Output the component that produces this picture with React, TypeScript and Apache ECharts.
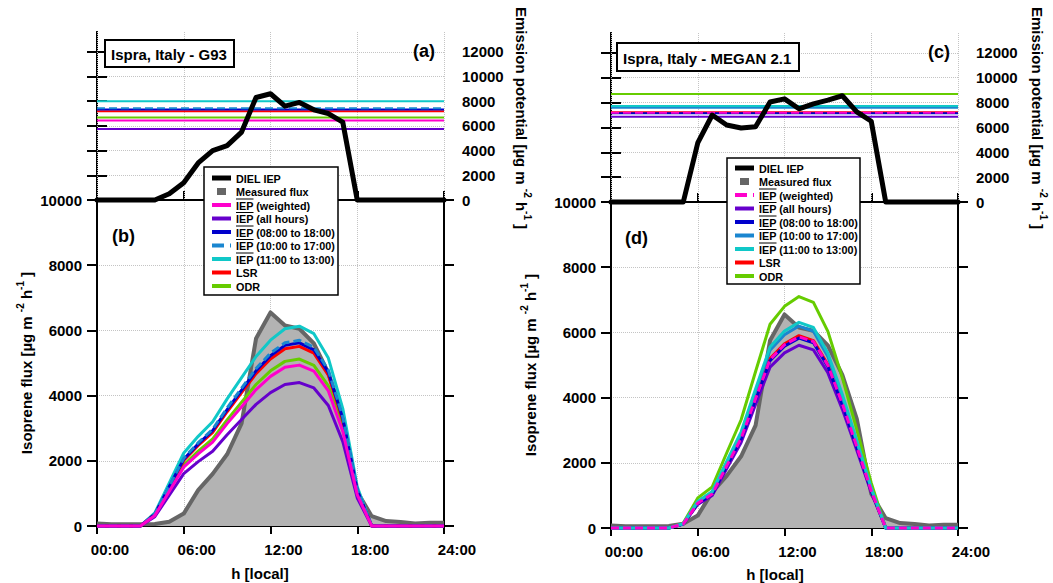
import React, { useEffect, useRef } from 'react';
import * as echarts from 'echarts';

const FONT = '"Liberation Sans", Arial, Helvetica, sans-serif';

// ---------- data ----------
const hours = [0, 1, 2, 3, 4, 5, 6, 7, 8, 9, 10, 11, 12, 13, 14, 15, 16, 17, 18, 19, 20, 21, 22, 23, 24];
const xTickLabels = ['00:00', '06:00', '12:00', '18:00', '24:00'];
const epTicks = [0, 2000, 4000, 6000, 8000, 10000, 12000];

const modelNames = ['IEP (weighted)', 'IEP (all hours)', 'IEP (08:00 to 18:00)', 'IEP (10:00 to 17:00)', 'IEP (11:00 to 13:00)', 'LSR', 'ODR'];
const legendLabels = ['DIEL IEP', 'Measured flux', ...modelNames];
const modelColors = ['#ff00cc', '#6600cc', '#0000cc', '#1a86d0', '#10c8c8', '#ff0000', '#66cc00'];

// DIEL IEP (emission potential, upper panels)
const dielG93 = [0, 0, 0, 0, 0, 500, 1400, 3000, 4000, 4400, 5500, 8300, 8600, 7600, 7900, 7300, 7000, 6300, 0, 0, 0, 0, 0, 0, 0];
const dielMegan = [0, 0, 0, 0, 0, 0, 4750, 7000, 6200, 5950, 6050, 8050, 8300, 7500, 7900, 8200, 8550, 7250, 6500, 0, 0, 0, 0, 0, 0];

// constant emission potentials (order = modelNames)
const epG93 = [6440, 5740, 7330, 7430, 8000, 7190, 6680];
const epMegan = [7190, 6870, 7140, 7590, 7730, 7230, 8700];

// measured isoprene flux
const measured = [80, 50, 50, 50, 60, 130, 380, 1100, 1600, 2200, 3150, 5750, 6550, 6150, 6050, 5600, 4700, 3350, 1050, 300, 150, 120, 80, 100, 100];

// modelled flux, G93 (panel b)
const bWeighted = [0, 0, 0, 0, 320, 1065, 1805, 2215, 2575, 3140, 3660, 4185, 4590, 4870, 4935, 4750, 4145, 2900, 965, 0, 0, 0, 0, 0, 0];
const bAllHours = [0, 0, 0, 0, 285, 945, 1605, 1975, 2295, 2800, 3265, 3730, 4090, 4340, 4400, 4235, 3695, 2585, 860, 0, 0, 0, 0, 0, 0];
const b0818 = [0, 0, 0, 0, 365, 1210, 2050, 2520, 2930, 3570, 4170, 4760, 5220, 5540, 5620, 5400, 4720, 3300, 1100, 0, 0, 0, 0, 0, 0];
const b1017 = [0, 0, 0, 0, 370, 1225, 2080, 2555, 2970, 3620, 4230, 4830, 5300, 5620, 5695, 5480, 4785, 3345, 1115, 0, 0, 0, 0, 0, 0];
const b1113 = [0, 0, 0, 0, 400, 1320, 2240, 2750, 3200, 3900, 4550, 5200, 5700, 6050, 6130, 5900, 5150, 3600, 1200, 0, 0, 0, 0, 0, 0];
const bLsr = [0, 0, 0, 0, 360, 1185, 2010, 2470, 2875, 3505, 4090, 4675, 5125, 5440, 5510, 5300, 4630, 3235, 1080, 0, 0, 0, 0, 0, 0];
const bOdr = [0, 0, 0, 0, 335, 1100, 1870, 2295, 2670, 3255, 3800, 4340, 4760, 5050, 5120, 4925, 4300, 3005, 1000, 0, 0, 0, 0, 0, 0];

// modelled flux, MEGAN 2.1 (panel d)
const dWeighted = [0, 0, 0, 0, 0, 124, 760, 1040, 1900, 2745, 3965, 5165, 5620, 5865, 5720, 4985, 3810, 2495, 1140, 0, 0, 0, 0, 0, 0];
const dAllHours = [0, 0, 0, 0, 0, 118, 725, 995, 1815, 2620, 3790, 4935, 5370, 5605, 5465, 4760, 3640, 2385, 1090, 0, 0, 0, 0, 0, 0];
const d0818 = [0, 0, 0, 0, 0, 123, 755, 1035, 1890, 2725, 3940, 5130, 5580, 5825, 5680, 4950, 3785, 2480, 1135, 0, 0, 0, 0, 0, 0];
const d1017 = [0, 0, 0, 0, 0, 131, 803, 1100, 2005, 2895, 4185, 5450, 5930, 6195, 6035, 5260, 4020, 2635, 1205, 0, 0, 0, 0, 0, 0];
const d1113 = [0, 0, 0, 0, 0, 133, 817, 1120, 2045, 2950, 4265, 5555, 6040, 6310, 6150, 5360, 4095, 2685, 1225, 0, 0, 0, 0, 0, 0];
const dLsr = [0, 0, 0, 0, 0, 125, 765, 1045, 1910, 2760, 3990, 5195, 5650, 5900, 5750, 5010, 3830, 2510, 1145, 0, 0, 0, 0, 0, 0];
const dOdr = [0, 0, 0, 0, 0, 150, 920, 1260, 2300, 3320, 4800, 6250, 6800, 7100, 6920, 6030, 4610, 3020, 1380, 0, 0, 0, 0, 0, 0];

const bModels = [bWeighted, bAllHours, b0818, b1017, b1113, bLsr, bOdr];
const dModels = [dWeighted, dAllHours, d0818, d1017, d1113, dLsr, dOdr];

// ---------- helpers ----------
const pts = (arr: number[]) => hours.map((h, i) => [h, arr[i]]);
const GRIDLINE = { show: true, lineStyle: { color: '#c4c4c4', type: 'dotted', width: 1 } };
const AXLINE = { show: true, lineStyle: { color: '#000', width: 2 } };
const TICK = (len: number, custom?: number[]) => ({
  show: true, inside: false, length: len, lineStyle: { color: '#000', width: 2 }, ...(custom ? { customValues: custom } : {}),
});
const LABEL = { color: '#000', fontSize: 15, fontWeight: 'bold', fontFamily: FONT, formatter: (v: number) => String(v) };

type Panel = {
  left: number; topY: number; midY: number; botY: number;
  diel: number[]; ep: number[]; models: number[][]; dashed: number; order: number[];
};

const panels: Panel[] = [
  { left: 97, topY: 32, midY: 200, botY: 526, diel: dielG93, ep: epG93, models: bModels, dashed: 3, order: [4, 6, 5, 2, 3, 1, 0] },
  { left: 611, topY: 33, midY: 202, botY: 528, diel: dielMegan, ep: epMegan, models: dModels, dashed: 0, order: [6, 1, 5, 2, 3, 4, 0] },
];
const PW = 347;

function buildOption() {
  const grid: any[] = [];
  const xAxis: any[] = [];
  const yAxis: any[] = [];
  const series: any[] = [];

  panels.forEach((p, pi) => {
    const gTop = pi * 2;
    const gLow = pi * 2 + 1;
    grid.push({ left: p.left, top: p.topY, width: PW, height: p.midY - p.topY, outerBoundsMode: 'none', containLabel: false });
    grid.push({ left: p.left, top: p.midY, width: PW, height: p.botY - p.midY, outerBoundsMode: 'none', containLabel: false });

    const xBase = { type: 'value', min: 0, max: 24, interval: 6 };
    // upper panel: bottom line + vertical grid
    xAxis.push({ ...xBase, gridIndex: gTop, position: 'bottom', z: 1, axisLine: AXLINE, axisTick: { show: false }, axisLabel: { show: false }, splitLine: GRIDLINE });
    // upper panel: top frame with outward ticks
    xAxis.push({ ...xBase, gridIndex: gTop, position: 'top', axisLine: AXLINE, axisTick: TICK(9), axisLabel: { show: false }, splitLine: { show: false } });
    // lower panel: time axis
    xAxis.push({
      ...xBase, gridIndex: gLow, position: 'bottom', axisLine: AXLINE, axisTick: TICK(8), splitLine: GRIDLINE,
      axisLabel: { ...LABEL, margin: 16, padding: [0, 0, 0, 26], formatter: (v: number) => xTickLabels[Math.round(v / 6)] ?? '' },
    });

    const yTop = { type: 'value', min: 0, max: 13600, interval: 2000 };
    yAxis.push({
      ...yTop, gridIndex: gTop, position: 'right', axisLine: AXLINE, axisTick: TICK(10, epTicks), splitLine: GRIDLINE,
      axisLabel: { ...LABEL, margin: 18, customValues: epTicks },
    });
    yAxis.push({ ...yTop, gridIndex: gTop, position: 'left', axisLine: AXLINE, axisTick: TICK(10, epTicks), axisLabel: { show: false, customValues: epTicks }, splitLine: { show: false } });
    const yLow = { type: 'value', min: 0, max: 10000, interval: 2000 };
    yAxis.push({ ...yLow, gridIndex: gLow, position: 'left', axisLine: AXLINE, axisTick: TICK(10), splitLine: GRIDLINE, axisLabel: { ...LABEL, margin: 15 } });
    yAxis.push({ ...yLow, gridIndex: gLow, position: 'right', axisLine: AXLINE, axisTick: TICK(10), axisLabel: { show: false }, splitLine: { show: false } });

    const xi = pi * 3;
    const yi = pi * 4;
    // horizontal emission potential lines
    p.order.forEach((m) => {
      series.push({
        type: 'line', name: modelNames[m], xAxisIndex: xi, yAxisIndex: yi, showSymbol: false, symbol: 'none', clip: false,
        data: [[0, p.ep[m]], [24, p.ep[m]]],
        lineStyle: { color: modelColors[m], width: 2, type: m === p.dashed ? [8, 4] : 'solid' },
        z: 3,
      });
    });
    series.push({
      type: 'line', name: 'DIEL IEP', xAxisIndex: xi, yAxisIndex: yi, showSymbol: false, symbol: 'none', clip: false,
      data: pts(p.diel), lineStyle: { color: '#000', width: 5, join: 'round', cap: 'round' }, z: 4,
    });
    // measured flux
    series.push({
      type: 'line', name: 'Measured flux', xAxisIndex: xi + 2, yAxisIndex: yi + 2, showSymbol: false, symbol: 'none', clip: false,
      data: pts(measured), lineStyle: { color: '#666666', width: 4, join: 'round' }, areaStyle: { color: '#b3b3b3', opacity: 1 }, z: 2,
    });
    p.order.forEach((m) => {
      series.push({
        type: 'line', name: modelNames[m], xAxisIndex: xi + 2, yAxisIndex: yi + 2, showSymbol: false, symbol: 'none', clip: false,
        data: pts(p.models[m]),
        lineStyle: { color: modelColors[m], width: 3, join: 'round', type: m === p.dashed ? [8, 4] : 'solid' },
        z: 3,
      });
    });
  });

  // ---------- graphic: titles, panel letters, legends, axis titles ----------
  const g: any[] = [];
  const txt = (x: number, y: number, text: string, size: number, align = 'left', extra: any = {}) => ({
    type: 'text', x, y, z: 20,
    style: { text, fill: '#000', font: `bold ${size}px ${FONT}`, align, verticalAlign: 'middle', textAlign: align, textVerticalAlign: 'middle', ...extra },
  });

  // title boxes
  const titles = [
    { x: 105, y: 40, w: 129, h: 27, t: 'Ispra, Italy - G93' },
    { x: 617, y: 43, w: 182, h: 28, t: 'Ispra, Italy - MEGAN 2.1' },
  ];
  titles.forEach((t) => {
    g.push({ type: 'rect', z: 19, shape: { x: t.x, y: t.y, width: t.w, height: t.h }, style: { fill: '#fff', stroke: '#000', lineWidth: 2 } });
    g.push(txt(t.x + 6, t.y + t.h / 2 + 1, t.t, 15));
  });
  // panel letters
  g.push(txt(435, 51, '(a)', 18, 'right'));
  g.push(txt(950, 52, '(c)', 18, 'right'));
  g.push(txt(112, 236, '(b)', 18));
  g.push(txt(625, 238, '(d)', 18));

  // legends
  const legends = [
    { x: 204, y: 167, w: 134, h: 128, r0: 11, dashed: 3 },
    { x: 727, y: 158, w: 133, h: 126, r0: 10, dashed: 0 },
  ];
  legends.forEach((L) => {
    g.push({ type: 'rect', z: 19, shape: { x: L.x, y: L.y, width: L.w, height: L.h }, style: { fill: '#fff', stroke: '#000', lineWidth: 1.5 } });
    const sx1 = L.x + 8, sx2 = L.x + 27, tx = L.x + 32;
    legendLabels.forEach((lab, i) => {
      const ry = L.y + L.r0 + i * 13.5;
      if (i === 0) {
        g.push({ type: 'line', z: 20, shape: { x1: sx1, y1: ry, x2: sx2, y2: ry }, style: { stroke: '#000', lineWidth: 5 } });
      } else if (i === 1) {
        g.push({ type: 'rect', z: 20, shape: { x: sx1 + 5, y: ry - 3.5, width: 9, height: 7 }, style: { fill: '#666666' } });
      } else {
        const m = i - 2;
        g.push({
          type: 'line', z: 20, shape: { x1: sx1, y1: ry, x2: sx2, y2: ry },
          style: { stroke: modelColors[m], lineWidth: 4, lineDash: m === L.dashed ? [12, 6] : null },
        });
      }
      g.push(txt(tx, ry + 0.5, lab, 10.8));
      if (lab.startsWith('IEP')) {
        g.push({ type: 'line', z: 20, shape: { x1: tx, y1: ry - 6, x2: tx + 17.5, y2: ry - 6 }, style: { stroke: '#000', lineWidth: 1 } });
      }
    });
  });

  // axis titles
  const rich = {
    a: { fontSize: 15, fontWeight: 'bold', fontFamily: FONT, lineHeight: 22, fill: '#000', color: '#000' },
    s: { fontSize: 10, fontWeight: 'bold', fontFamily: FONT, lineHeight: 10, verticalAlign: 'top', fill: '#000', color: '#000' },
  };
  const fluxTitle = '{a|Isoprene flux [µg m }{s|-2}{a| h}{s|-1}{a| ]}';
  const epTitle = '{a|Emission potential [µg m }{s|-2}{a| h}{s|-1}{a| ]}';
  const rotText = (x: number, y: number, text: string, rot: number) => ({
    type: 'text', x, y, rotation: rot, z: 20,
    style: { text, rich, align: 'center', verticalAlign: 'middle', textAlign: 'center', textVerticalAlign: 'middle', fill: '#000' },
  });
  g.push(rotText(26, 363, fluxTitle, Math.PI / 2));
  g.push(rotText(530, 365, fluxTitle, Math.PI / 2));
  g.push(rotText(521, 118, epTitle, -Math.PI / 2));
  g.push(rotText(1037, 118, epTitle, -Math.PI / 2));
  g.push(txt(260, 573, 'h [local]', 15, 'center'));
  g.push(txt(775, 574, 'h [local]', 15, 'center'));

  return {
    animation: false,
    backgroundColor: '#ffffff',
    textStyle: { fontFamily: FONT },
    grid, xAxis, yAxis, series,
    graphic: { elements: g },
  };
}

export default function App() {
  const ref = useRef<HTMLDivElement>(null);
  useEffect(() => {
    if (!ref.current) return;
    const chart = echarts.init(ref.current, undefined, { renderer: 'svg' });
    chart.setOption(buildOption() as any);
    return () => chart.dispose();
  }, []);
  return <div ref={ref} style={{ position: 'fixed', left: 0, top: 0, width: 1053, height: 583, background: '#fff' }} />;
}
